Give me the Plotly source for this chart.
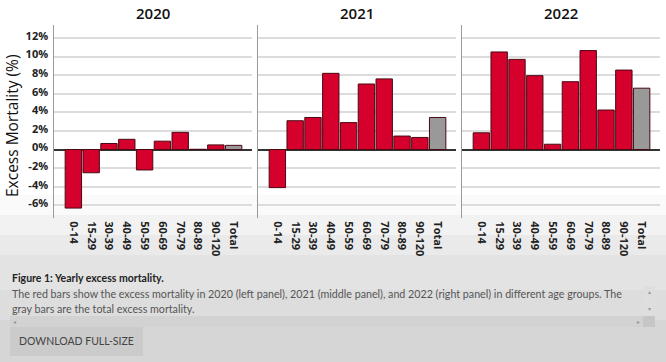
import plotly.graph_objects as go

categories = ["0-14", "15-29", "30-39", "40-49", "50-59", "60-69", "70-79", "80-89", "90-120", "Total"]
years = ["2020", "2021", "2022"]
values_2020 = [-6.3, -2.5, 0.65, 1.1, -2.2, 0.9, 1.85, 0.03, 0.5, 0.45]
values_2021 = [-4.1, 3.1, 3.45, 8.2, 2.9, 7.05, 7.6, 1.45, 1.3, 3.45]
values_2022 = [1.8, 10.5, 9.7, 7.95, 0.57, 7.3, 10.65, 4.25, 8.55, 6.6]
y_ticks = [-6, -4, -2, 0, 2, 4, 6, 8, 10, 12]
y_tick_labels = [f"{v}%" for v in y_ticks]

RED = "#D5002C"
GRAY = "#999999"
W, H = 666, 362

fig = go.Figure()

# background gradient (white to light gray toward the bottom)
grad_stops = [(0, 195, 255), (195, 215, 250), (215, 235, 242), (235, 255, 234), (255, 290, 227), (290, 320, 221), (320, 362, 214)]
for y0, y1, c in grad_stops:
    fig.add_shape(type="rect", xref="paper", yref="paper", x0=0, x1=1,
                  y0=1 - y1 / H, y1=1 - y0 / H, fillcolor=f"rgb({c},{c},{c})",
                  line_width=0, layer="below")

domains = [(54.3, 252), (258.3, 456), (462.3, 660)]
series = [values_2020, values_2021, values_2022]
colors = [RED] * (len(categories) - 1) + [GRAY]


def ann(text, x, y, size, color, family="Open Sans", xanchor="center", angle=0, weight=None):
    f = dict(family=family, size=size, color=color)
    if weight is not None:
        f["weight"] = weight
    fig.add_annotation(text=text, x=x / W, y=1 - y / H, xref="paper", yref="paper", showarrow=False,
                       xanchor=xanchor, yanchor="middle", textangle=angle, font=f)


for i, (vals, yr) in enumerate(zip(series, years)):
    k = "" if i == 0 else str(i + 1)
    fig.add_trace(go.Bar(x=categories, y=vals, marker=dict(color=colors, line=dict(color="#4a0a14", width=1)),
                         xaxis="x" + k, yaxis="y" + k, showlegend=False, name=yr))
    d0, d1 = domains[i]
    fig.layout["xaxis" + k] = dict(domain=[d0 / W, d1 / W], anchor="y" + k, type="category",
                                   range=[-1.07, 10.03], tickangle=90, showgrid=False, automargin=False,
                                   tickfont=dict(family="Open Sans", size=11, color="#222", weight="bold"),
                                   ticks="", showline=False, ticklabelstandoff=2)
    fig.layout["yaxis" + k] = dict(domain=[1 - 218.3 / H, 1 - 25 / H], anchor="x" + k, automargin=False,
                                   range=[-7.4, 13.4], tickvals=y_ticks, ticktext=y_tick_labels,
                                   showticklabels=(i == 0), showgrid=True, gridcolor="#dcdcdc", gridwidth=1.5,
                                   zeroline=True, zerolinecolor="#333333", zerolinewidth=1.5,
                                   showline=True, linecolor="#9a9a9a", linewidth=1, ticks="",
                                   tickfont=dict(family="Open Sans", size=11, color="#222", weight="bold"),
                                   ticklabelshift=-2, ticklabelstandoff=3)
    ann(yr, (d0 + d1) / 2, 13, 15, "#111", weight=600)

ann("Excess Mortality (%)", 12, 126, 15.5, "#111", angle=-90, weight=500)

# caption
ann("<b>Figure 1: Yearly excess mortality.</b>", 10, 278, 10.5, "#222", family="Lato", xanchor="left")
ann("The red bars show the excess mortality in 2020 (left panel), 2021 (middle panel), and 2022 (right panel) in different age groups. The",
    10, 293, 10.7, "#555", family="Lato", xanchor="left")
ann("gray bars are the total excess mortality.", 10, 308, 10.7, "#555", family="Lato", xanchor="left")

# scrollbars
fig.add_shape(type="rect", xref="paper", yref="paper", x0=10 / W, x1=643 / W, y0=1 - 327 / H, y1=1 - 316 / H,
              fillcolor="#d2d2d2", line_width=0)
fig.add_shape(type="rect", xref="paper", yref="paper", x0=643 / W, x1=655 / W, y0=1 - 316 / H, y1=1 - 286 / H,
              fillcolor="#dedede", line_width=0)
fig.add_shape(type="rect", xref="paper", yref="paper", x0=643 / W, x1=655 / W, y0=1 - 327 / H, y1=1 - 316 / H,
              fillcolor="#c6c6c6", line_width=0)
for txt, xx, yy in [("◂", 14, 321.5), ("▸", 638, 321.5), ("▴", 649, 292), ("▾", 649, 309)]:
    ann(txt, xx, yy, 6, "#999")

# button
fig.add_shape(type="rect", xref="paper", yref="paper", x0=10 / W, x1=143 / W, y0=1 - 356 / H, y1=1 - 327 / H,
              fillcolor="#cbcbcb", line_width=0)
ann("DOWNLOAD FULL-SIZE", 76, 341, 10.5, "#444", family="Lato")

fig.update_layout(width=W, height=H, margin=dict(l=0, r=0, t=0, b=0),
                  paper_bgcolor="white", plot_bgcolor="rgba(0,0,0,0)", bargap=0.08)

fig.write_html("out.html", config={"displayModeBar": False},
               post_script="document.body.style.margin='0';document.body.style.padding='0';")
